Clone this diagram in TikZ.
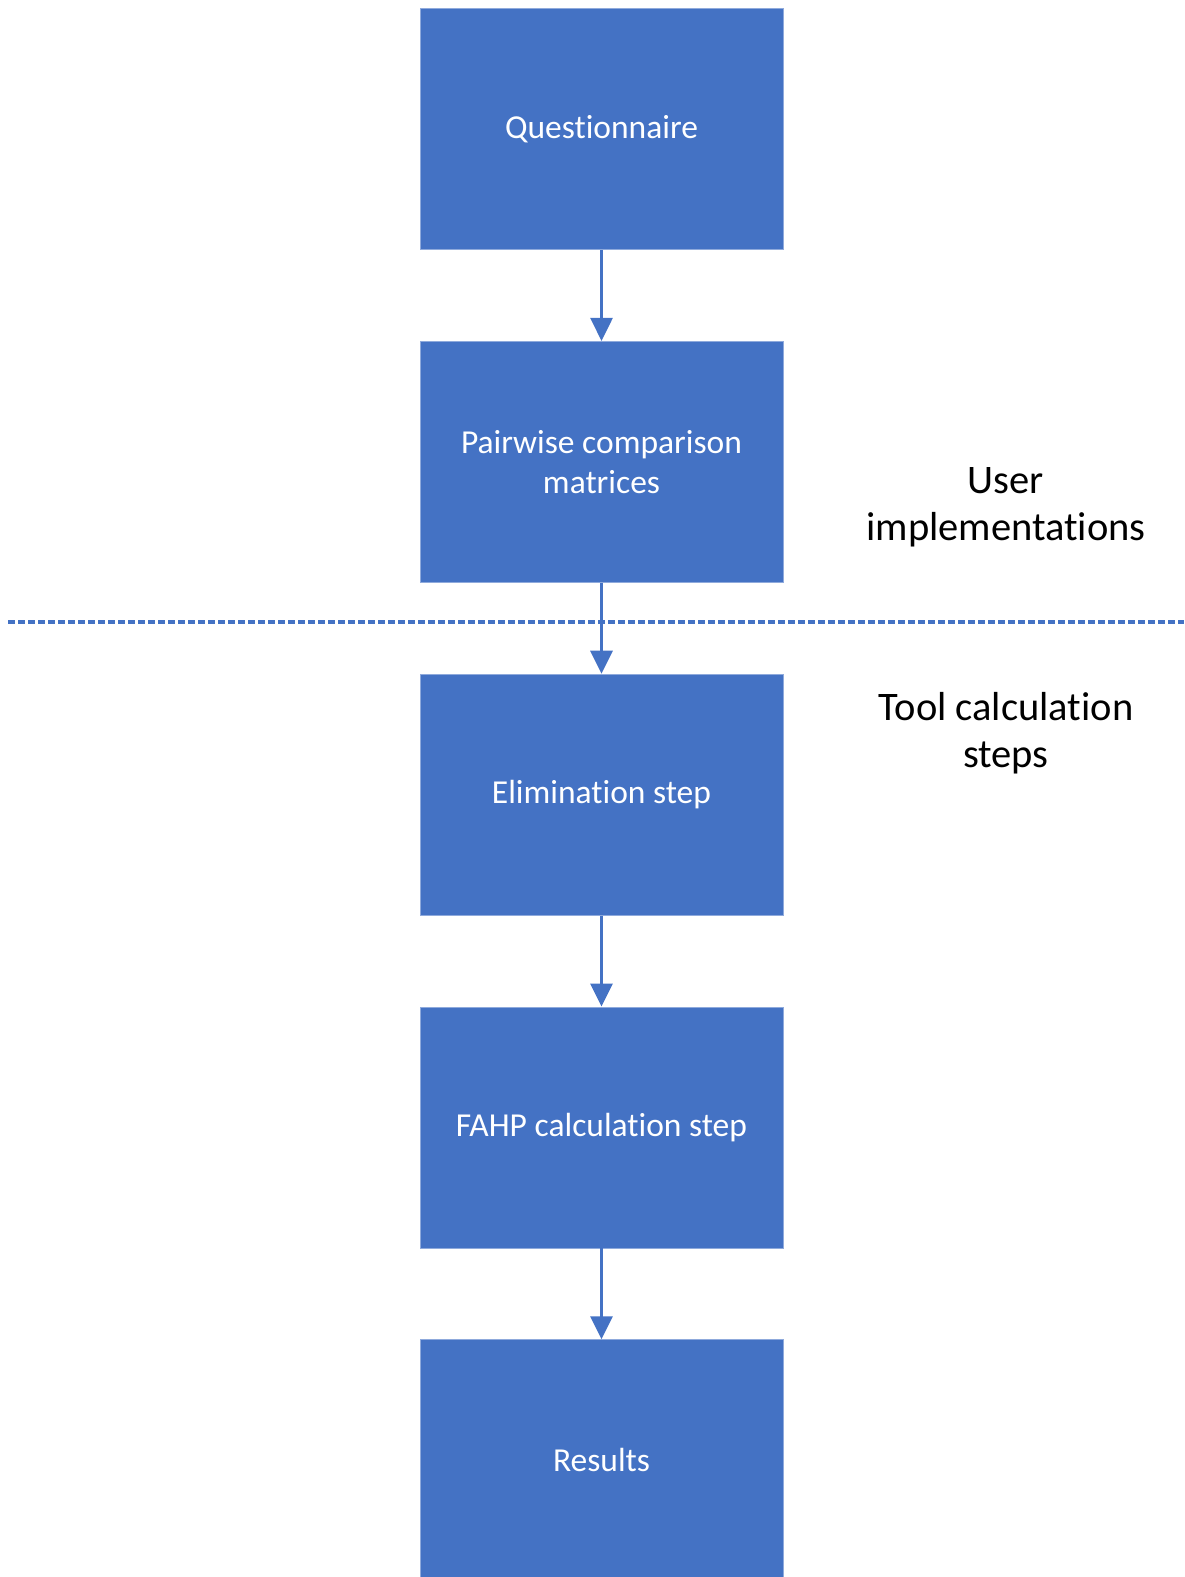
\documentclass[tikz,border=0pt]{standalone}
\usepackage{fontspec}
\setmainfont{Carlito}[RawFeature={-liga}]
\usepackage{tikz}
\usetikzlibrary{positioning, arrows.meta}

\definecolor{officeblue}{HTML}{4472C4}

\begin{document}
\begin{tikzpicture}[x=1pt, y=1pt,
	step_box/.style={rectangle, fill=officeblue, draw=officeblue!60!white, line width=0.8pt, minimum width=363pt, minimum height=241pt, text=white, align=center, font=\fontsize{33.5}{40}\selectfont},
	side_text/.style={align=center, font=\fontsize{40.5}{47}\selectfont},
	flow/.style={color=officeblue, line width=3pt, -{Triangle[width=22pt, length=23pt]}},
	node distance=91pt]

	\useasboundingbox (0, 0) rectangle (1184, -1577);

	\node[step_box] (1) at (601.5, -129) {Questionnaire};
	\node[step_box, below=of 1] (2) {Pairwise comparison\\matrices};
	\node[step_box, below=of 2] (3) {Elimination step};
	\node[step_box, below=of 3] (4) {FAHP calculation step};
	\node[step_box, below=of 4] (5) {Results};

	\node[side_text] (user) at (1006, -507) {User\\implementations};
	\node[side_text] (tool) at (1006, -733) {Tool calculation\\steps};

	\coordinate (sepL) at (8, -622);
	\coordinate (sepR) at (1184, -622);
	\draw[officeblue, line width=3.5pt, dash pattern=on 7pt off 3pt] (sepL) -- (sepR);

	\draw[flow] (1) -- (2);
	\draw[flow] (2) -- (3);
	\draw[flow] (3) -- (4);
	\draw[flow] (4) -- (5);
\end{tikzpicture}
\end{document}
